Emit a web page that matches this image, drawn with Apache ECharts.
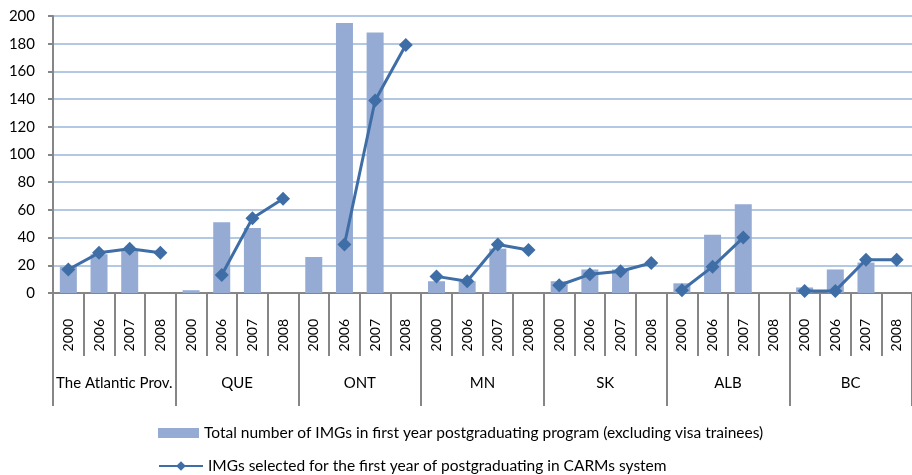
<!DOCTYPE html>
<html>
<head>
<meta charset="utf-8">
<title>IMGs by province</title>
<script src="https://cdn.jsdelivr.net/npm/echarts@6/dist/echarts.min.js"></script>
<style>
    html, body { margin: 0; padding: 0; background: #fff; }
    #chart { width: 912px; height: 475px; }
</style>
</head>
<body>
<div id="chart"></div>
<script>
    const provinces = ['The Atlantic Prov.', 'QUE', 'ONT', 'MN', 'SK', 'ALB', 'BC']
    const years = ['2000', '2006', '2007', '2008']
    const yTicks = [0, 20, 40, 60, 80, 100, 120, 140, 160, 180, 200]

    const totalName = 'Total number of IMGs in first year postgraduating program (excluding visa trainees)'
    const selectedName = 'IMGs selected for the first year of postgraduating in CARMs system'

    // bars, one row per province (2000, 2006, 2007, 2008)
    const totalIMGs = [
        [19, 28, 31, null],
        [2, 51, 47, null],
        [26, 195, 188, null],
        [8.5, 8.5, 32, null],
        [8.5, 17, 17, null],
        [7, 42, 64, null],
        [4, 17, 22, null]
    ]

    // line, one row per province
    const selectedIMGs = [
        [17, 29, 32, 29],
        [null, 13, 54, 68],
        [null, 35, 139, 179],
        [12, 8.5, 35, 31],
        [5.6, 13.5, 15.7, 21.7],
        [2, 19, 40, null],
        [1.5, 1.5, 24, 24]
    ]

    const barColor = '#95abd3'
    const lineColor = '#3f6ea7'
    const axisGrey = '#868686'
    const font = 'Lato'

    const categories = []
    provinces.forEach(() => years.forEach(y => categories.push(y)))

    const barData = []
    totalIMGs.forEach(row => row.forEach(v => barData.push(v)))

    // each province gets its own line so segments don't join across groups
    const lineSeries = selectedIMGs.map((row, i) => {
        const data = categories.map(() => null)
        row.forEach((v, j) => { data[i * years.length + j] = v })
        return {
            name: selectedName,
            type: 'line',
            data: data,
            symbol: 'diamond',
            symbolSize: 14,
            connectNulls: false,
            lineStyle: { color: lineColor, width: 3 },
            itemStyle: { color: lineColor },
            z: 3
        }
    })

    const legendText = { fontFamily: font, fontSize: 15.5, color: '#000' }

    const chart = echarts.init(document.getElementById('chart'))

    chart.setOption({
        animation: false,
        textStyle: { fontFamily: font },
        grid: { left: 53, right: 0, top: 16, bottom: 182 },
        legend: [
            {
                left: 153,
                top: 420,
                itemWidth: 41,
                itemHeight: 10,
                itemGap: 4,
                textStyle: legendText,
                data: [{ name: totalName, icon: 'rect' }]
            },
            {
                left: 153,
                top: 453,
                itemWidth: 44,
                itemHeight: 12,
                textStyle: legendText,
                data: [{ name: selectedName }]
            }
        ],
        xAxis: [
            {
                type: 'category',
                data: categories,
                boundaryGap: true,
                axisLine: { show: true, onZero: false, lineStyle: { color: axisGrey, width: 2 } },
                axisTick: { show: true, interval: 0, length: 63, lineStyle: { color: axisGrey, width: 2 } },
                axisLabel: {
                    interval: 0,
                    rotate: 90,
                    margin: 26,
                    fontSize: 14,
                    color: '#000',
                    fontFamily: font
                }
            },
            {
                type: 'category',
                position: 'bottom',
                data: provinces,
                boundaryGap: true,
                axisLine: { show: true, onZero: false, lineStyle: { color: axisGrey, width: 2 } },
                axisTick: { show: true, interval: 0, length: 113, lineStyle: { color: axisGrey, width: 2 } },
                axisLabel: {
                    interval: 0,
                    margin: 83,
                    fontSize: 15,
                    color: '#000',
                    fontFamily: font
                }
            }
        ],
        yAxis: {
            type: 'value',
            min: yTicks[0],
            max: yTicks[yTicks.length - 1],
            interval: 20,
            axisLine: { show: true, lineStyle: { color: axisGrey, width: 2 } },
            axisTick: { show: true, length: 5, lineStyle: { color: axisGrey, width: 2 } },
            axisLabel: { margin: 18, fontSize: 15, color: '#000', fontFamily: font },
            splitLine: { lineStyle: { color: '#9ab6d9', width: 1.5 } }
        },
        series: [
            {
                name: totalName,
                type: 'bar',
                data: barData,
                barWidth: 17,
                itemStyle: { color: barColor },
                z: 2
            }
        ].concat(lineSeries)
    })
</script>
</body>
</html>
